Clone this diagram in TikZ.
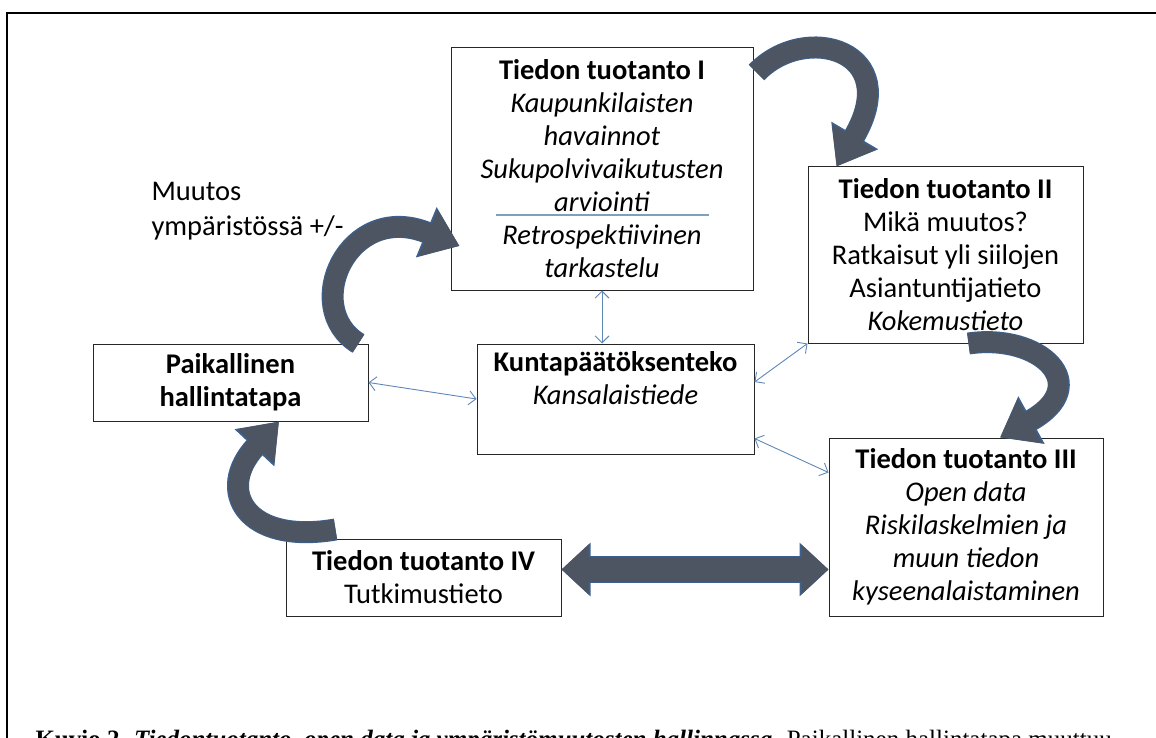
\documentclass[tikz,border=0pt]{standalone}
\usepackage{fontspec}
\setmainfont{Carlito}
\newfontfamily\captionfont{Liberation Serif}
\usetikzlibrary{arrows.meta,calc}

\definecolor{bandfill}{RGB}{77,85,99}
\definecolor{bandedge}{RGB}{62,96,140}
\definecolor{linkblue}{RGB}{95,135,185}
\definecolor{rulegray}{RGB}{125,160,190}

\tikzset{
  box/.style={draw=black!85, line width=1pt, fill=white, align=center, inner sep=0pt, font=\fontsize{28.5}{33}\selectfont},
  link/.style={draw=linkblue, line width=0.9pt, {Straight Barb[length=7pt,width=14pt]}-{Straight Barb[length=7pt,width=14pt]}},
  band/.style={draw=bandfill, line width=20pt, -{Triangle[length=34pt,width=48pt]},
    preaction={draw=bandedge, line width=22pt, -{Triangle[length=36pt,width=52pt]}}},
  wideband/.style={draw=bandfill, line width=25pt, {Triangle[length=27pt,width=48pt]}-{Triangle[length=27pt,width=48pt]},
    preaction={draw=bandedge, line width=27pt, {Triangle[length=29pt,width=52pt]}-{Triangle[length=29pt,width=52pt]}}}
}

\begin{document}
\begin{tikzpicture}[x=1pt,y=-1pt]

\useasboundingbox (0,0) rectangle (1156,738);

%frame of the figure
\draw[line width=2pt] (7,745) -- (7,13) -- (1160,13);

%position of the knowledge boxes
\coordinate (pI) at (602,169);
\coordinate (pII) at (945.5,255);
\coordinate (pIII) at (966,527);
\coordinate (pIV) at (423.5,577.5);

%position of governance and decision making
\coordinate (pPaik) at (230.5,382.5);
\coordinate (pKunta) at (615.5,399);

% knowledge production boxes
\node[box, minimum width=302pt, minimum height=242pt] (tietoI) at (pI)
  {\textbf{Tiedon tuotanto I}\\ \textit{Kaupunkilaisten}\\ \textit{havainnot}\\ \textit{Sukupolvivaikutusten}\\ \textit{arviointi}\\ \textit{Retrospektiivinen}\\ \textit{tarkastelu}};
\node[box, minimum width=275pt, minimum height=176pt] (tietoII) at (pII)
  {\textbf{Tiedon tuotanto II}\\ Mikä muutos?\\ Ratkaisut yli siilojen\\ Asiantuntijatieto\\ \textit{Kokemustieto}};
\node[box, minimum width=274pt, minimum height=178pt] (tietoIII) at (pIII)
  {\textbf{Tiedon tuotanto III}\\ \textit{Open data}\\ \textit{Riskilaskelmien ja}\\ \textit{muun tiedon}\\ \textit{kyseenalaistaminen}};
\node[box, minimum width=275pt, minimum height=77pt] (tietoIV) at (pIV)
  {\textbf{Tiedon tuotanto IV}\\ Tutkimustieto};

% governance and decisions
\node[box, minimum width=275pt, minimum height=77pt] (paik) at (pPaik)
  {\textbf{Paikallinen}\\ \textbf{hallintatapa}};
\node[box, minimum width=277pt, minimum height=110pt] (kunta) at (pKunta)
  {\textbf{Kuntapäätöksenteko}\\ \textit{Kansalaistiede}\\ \strut};

\draw[rulegray, line width=1.2pt] ($(tietoI.center)+(-106,46)$) -- ($(tietoI.center)+(107,46)$);

% label of the change
\node[anchor=base west, align=left, font=\fontsize{28.5}{35}\selectfont] (muutos) at (148,235)
  {Muutos\\ ympäristössä +/-};

% thin links to decision making
\draw[link] (tietoI.south) -- (tietoI.south |- kunta.north);
\draw[link] (paik.east) -- (kunta.west);
\draw[link] ([yshift=17pt]kunta.east) -- (tietoII.south west);
\draw[link] ([yshift=16pt]kunta.south east) -- ([yshift=-35pt]tietoIII.north west);

% curved block arrows of the cycle
\draw[band] ([xshift=-10pt]paik.north east) .. controls (300,308) and (348,200) .. ([xshift=9pt,yshift=-77pt]tietoI.west);
\draw[band] ([xshift=3pt,yshift=-25pt]tietoI.north east) .. controls (805,22) and (905,50) .. ([xshift=29pt]tietoII.north west);
\draw[band] ([xshift=-115pt]tietoII.south east) .. controls (1040,333) and (1095,385) .. ([xshift=34pt]tietoIII.north);
\draw[band] ([xshift=50pt,yshift=9pt]tietoIV.north west) .. controls (245,545) and (215,490) .. ([xshift=48.5pt]paik.south);

% double arrow between IV and III
\coordinate (dl) at ([yshift=8pt]tietoIV.east);
\coordinate (dr) at (tietoIII.west |- dl);
\draw[wideband] (dl) -- (dr);

% caption, cut by the lower edge
\node[anchor=base west, font=\captionfont\fontsize{25}{30}\selectfont] (kuvio) at (32,747.5)
  {\textbf{Kuvio 2.} \textbf{\textit{Tiedontuotanto, open data ja ympäristömuutosten hallinnassa.}} Paikallinen hallintatapa muuttuu};

\end{tikzpicture}
\end{document}
